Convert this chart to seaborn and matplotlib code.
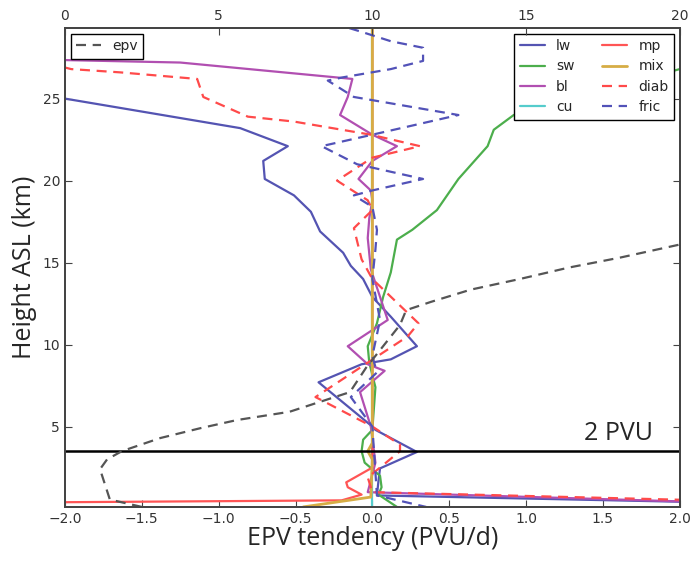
import matplotlib
matplotlib.use("Agg")
import matplotlib.pyplot as plt
import seaborn as sns

# EPV tendency profiles (PVU/d) against height (km)
lw_z = [29.3, 26.5, 25.0, 23.2, 22.1, 21.2, 20.1, 19.1, 18.1, 16.9, 15.6, 14.8, 14.0, 12.9,
        11.7, 9.9, 9.1, 8.8, 7.7, 5.0, 4.8, 3.45, 2.45, 1.7, 0.8, 0.3, 0.1]
lw_v = [-3.5, -2.6, -2.0, -0.86, -0.55, -0.71, -0.70, -0.51, -0.40, -0.34, -0.19, -0.14, -0.06, 0.0,
        0.12, 0.29, 0.12, -0.07, -0.35, 0.0, 0.02, 0.29, 0.05, 0.04, 0.03, 2.6, 2.6]

sw_z = [29.3, 26.8, 24.0, 23.1, 22.1, 20.1, 18.2, 17.0, 16.4, 14.4, 12.9, 11.3, 9.9, 8.9,
        7.4, 4.8, 4.2, 3.5, 2.8, 2.0, 1.3, 0.85, 0.1]
sw_v = [2.8, 2.0, 0.92, 0.79, 0.75, 0.56, 0.42, 0.26, 0.16, 0.12, 0.07, 0.03, -0.03, -0.02,
        0.02, 0.0, -0.06, -0.07, -0.05, 0.05, 0.06, 0.04, 0.16]

bl_z = [29.3, 27.35, 27.2, 26.2, 25.1, 24.0, 22.8, 22.1, 21.2, 20.1, 19.4, 18.8, 17.7, 16.5,
        14.6, 11.5, 9.9, 8.8, 8.4, 7.1, 5.0, 2.8, 1.0, 0.3, 0.1]
bl_v = [-3.0, -2.0, -1.25, -0.13, -0.16, -0.21, 0.0, 0.16, 0.0, -0.09, -0.01, 0.0, -0.02, -0.03,
        -0.01, 0.1, -0.16, -0.03, 0.08, -0.08, -0.01, 0.02, -0.03, 2.5, 2.5]

cu_z = [29.3, 0.1]
cu_v = [0.0, 0.0]

mp_z = [29.3, 2.5, 1.6, 1.3, 0.85, 0.5, 0.35, 0.1]
mp_v = [0.0, 0.0, -0.17, -0.16, -0.07, -0.2, -2.6, -2.6]

mix_z = [29.3, 4.0, 3.5, 3.0, 0.7, 0.1]
mix_v = [0.0, 0.0, -0.03, 0.0, -0.01, -0.45]

diab_z = [29.3, 26.8, 26.6, 26.2, 25.1, 23.9, 23.6, 22.8, 22.1, 21.4, 20.0, 18.8, 18.2, 17.1,
          15.2, 14.0, 11.3, 10.5, 8.9, 6.8, 5.0, 3.9, 3.5, 2.5, 1.9, 1.0, 0.4, 0.1]
diab_v = [-3.0, -1.96, -1.64, -1.14, -1.1, -0.81, -0.51, -0.01, 0.31, 0.0, -0.23, -0.03, 0.0, -0.12,
          -0.07, 0.0, 0.3, 0.23, -0.03, -0.37, 0.0, 0.18, 0.18, 0.05, -0.03, 0.0, 2.6, 2.6]

fric_z = [29.3, 29.1, 28.5, 28.1, 27.3, 26.8, 26.3, 26.1, 25.1, 24.0, 22.8, 22.1, 21.0, 20.1,
          19.4, 19.1, 18.4, 17.0, 15.8, 14.0, 11.5, 9.3, 8.3, 6.8, 5.0, 0.8, 0.1]
fric_v = [-0.15, -0.08, 0.12, 0.33, 0.33, 0.12, -0.19, -0.29, -0.12, 0.56, 0.0, -0.33, -0.1, 0.33,
          0.0, -0.12, 0.0, 0.03, 0.02, 0.0, 0.05, 0.0, 0.03, -0.14, 0.0, 0.03, 0.35]

# EPV itself (PVU), top axis
epv_z = [0.1, 0.55, 2.4, 3.0, 3.5, 4.3, 4.9, 5.4, 5.9, 7.1, 8.6, 11.2, 12.1, 12.6, 13.35, 14.0,
         14.7, 15.3, 16.1, 20.0, 29.3]
epv_v = [2.5, 1.46, 1.14, 1.37, 1.85, 3.1, 4.4, 5.6, 7.3, 9.27, 9.8, 10.9, 11.1, 11.9, 13.2, 14.8,
         16.4, 18.05, 20.0, 26.0, 40.0]

pvu2_height = 3.54

sns.set_style("ticks")
plt.rcParams.update({
    "xtick.direction": "in",
    "ytick.direction": "in",
    "xtick.top": False,
    "ytick.right": True,
    "xtick.major.size": 5,
    "ytick.major.size": 5,
    "axes.edgecolor": "#444444",
    "axes.linewidth": 1.3,
    "xtick.color": "#444444",
    "ytick.color": "#444444",
    "xtick.labelcolor": "#333333",
    "ytick.labelcolor": "#333333",
    "xtick.labelsize": 10,
    "ytick.labelsize": 10,
    "legend.fancybox": False,
    "legend.edgecolor": "black",
    "legend.framealpha": 1.0,
})

fig = plt.figure(figsize=(6.95, 5.62), dpi=100)
ax = fig.add_axes([0.0935, 0.098, 0.8845, 0.852])

series = [
    ("lw", lw_z, lw_v, "#5454b2", False),
    ("sw", sw_z, sw_v, "#4cae4c", False),
    ("bl", bl_z, bl_v, "#b14fb1", False),
    ("cu", cu_z, cu_v, "#55cccc", False),
    ("mp", mp_z, mp_v, "#ff5555", False),
    ("mix", mix_z, mix_v, "#d6ad45", False),
    ("diab", diab_z, diab_v, "#ff4a4a", True),
    ("fric", fric_z, fric_v, "#5252b8", True),
]
for name, z, v, col, dashed in series:
    sns.lineplot(x=v, y=z, sort=False, estimator=None, ax=ax, color=col,
                 linewidth=2.0 if name == "mix" else 1.6, label=name)
    if dashed:
        ax.lines[-1].set_dashes((4.5, 3.0))

ax.axhline(pvu2_height, color="black", linewidth=1.8)
ax.text(1.38, pvu2_height + 0.3, "2 PVU", fontsize=18, family="Open Sans",
        ha="left", va="bottom")

ax.set_xlim(-2, 2)
ax.set_ylim(0.1, 29.3)
ax.set_xticks([-2.0, -1.5, -1.0, -0.5, 0.0, 0.5, 1.0, 1.5, 2.0])
ax.set_yticks([5, 10, 15, 20, 25])
ax.set_xlabel("EPV tendency (PVU/d)", fontsize=18, family="Open Sans", labelpad=0)
ax.set_ylabel("Height ASL (km)", fontsize=18, family="Open Sans", labelpad=4)
ax.legend(loc="upper right", ncol=2, fontsize=10, handlelength=1.8,
          borderaxespad=0.4, columnspacing=2.0, labelspacing=0.45)

ax2 = ax.twiny()
sns.lineplot(x=epv_v, y=epv_z, sort=False, estimator=None, ax=ax2, color="#555555",
             linewidth=1.6, label="epv")
ax2.lines[-1].set_dashes((4.5, 3.0))
ax2.set_xlim(0, 20)
ax2.set_ylim(0.1, 29.3)
ax2.set_xticks([0, 5, 10, 15, 20])
ax2.tick_params(axis="x", direction="in", top=True, labeltop=True)
ax2.legend(loc="upper left", fontsize=10, handlelength=1.8, borderaxespad=0.4)

fig.savefig("out.png", dpi=100)
